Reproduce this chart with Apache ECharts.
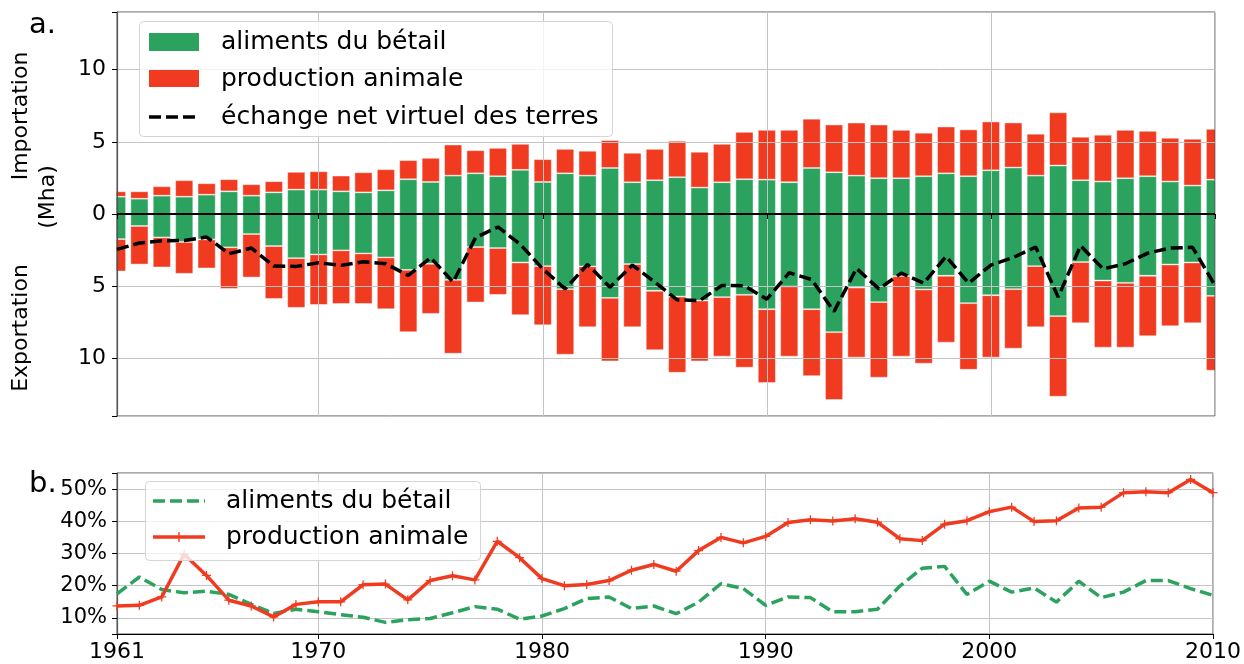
<!DOCTYPE html>
<html>
<head>
<meta charset="utf-8">
<script src="https://cdn.jsdelivr.net/npm/echarts@6/dist/echarts.min.js"></script>
<style>
html,body{margin:0;padding:0;background:#fff;}
#chart{width:1244px;height:664px;}
</style>
</head>
<body>
<div id="chart"></div>
<script>
// ---------- DATA ----------
const years = [1961,1962,1963,1964,1965,1966,1967,1968,1969,1970,
  1971,1972,1973,1974,1975,1976,1977,1978,1979,1980,
  1981,1982,1983,1984,1985,1986,1987,1988,1989,1990,
  1991,1992,1993,1994,1995,1996,1997,1998,1999,2000,
  2001,2002,2003,2004,2005,2006,2007,2008,2009,2010];

// Importations (Mha)
const importFeed = [1.20,1.06,1.27,1.20,1.34,1.57,1.27,1.50,1.69,1.69,
  1.57,1.50,1.64,2.41,2.22,2.66,2.82,2.62,3.06,2.22,
  2.82,2.66,3.19,2.20,2.34,2.55,1.83,2.20,2.41,2.38,
  2.20,3.19,2.89,2.66,2.48,2.48,2.62,2.82,2.62,3.03,
  3.22,2.66,3.36,2.34,2.25,2.48,2.62,2.25,1.97,2.38];
const importAnimal = [0.37,0.51,0.65,1.14,0.79,0.84,0.79,0.77,1.23,1.27,
  1.09,1.39,1.46,1.32,1.67,2.15,1.60,1.96,1.80,1.58,
  1.69,1.72,1.93,2.04,2.17,2.52,2.48,2.66,3.28,3.45,
  3.63,3.41,3.31,3.67,3.72,3.35,3.01,3.24,3.24,3.38,
  3.12,2.90,3.68,3.01,3.24,3.35,3.14,3.03,3.24,3.52];
// Exportations (Mha, plotted downward)
const exportFeed = [-1.74,-0.83,-1.62,-1.94,-1.76,-2.31,-1.39,-2.22,-3.06,-2.80,
  -2.52,-2.73,-3.01,-3.87,-3.45,-4.56,-2.29,-2.36,-3.36,-3.61,
  -5.21,-3.63,-5.81,-3.47,-5.32,-5.72,-6.00,-5.76,-5.60,-6.60,
  -5.02,-6.60,-8.19,-5.10,-6.11,-4.31,-5.23,-4.28,-6.18,-5.63,
  -5.21,-3.61,-7.08,-3.33,-4.61,-4.77,-4.28,-3.50,-3.36,-5.67];
const exportAnimal = [-2.24,-2.67,-2.08,-2.20,-2.01,-2.88,-3.01,-3.66,-3.44,-3.50,
  -3.71,-3.50,-3.59,-4.32,-3.47,-5.12,-3.84,-3.24,-3.65,-4.10,
  -4.54,-4.22,-4.40,-4.38,-4.12,-5.28,-4.21,-4.12,-5.05,-5.11,
  -4.86,-4.63,-4.70,-4.85,-5.23,-5.57,-5.14,-4.63,-4.61,-4.32,
  -4.12,-4.24,-5.58,-4.24,-4.65,-4.49,-4.19,-4.28,-4.21,-5.19];
// Échange net virtuel des terres (Mha)
const netExchange = [-2.45,-2.01,-1.85,-1.83,-1.60,-2.75,-2.36,-3.61,-3.63,-3.38,
  -3.56,-3.31,-3.45,-4.26,-3.03,-4.72,-1.64,-0.90,-2.11,-3.80,
  -5.19,-3.50,-5.07,-3.54,-4.72,-5.95,-6.00,-4.95,-4.98,-5.90,
  -4.07,-4.54,-6.76,-3.77,-5.19,-4.10,-4.79,-2.94,-4.79,-3.54,
  -3.01,-2.29,-5.76,-2.20,-3.80,-3.45,-2.71,-2.36,-2.31,-4.95];

// Panel b (%)
const feedShare = [17.5,22.7,18.8,17.8,18.3,17.3,14.2,11.4,12.7,11.9,
  11.0,10.2,8.6,9.4,9.8,11.6,13.5,12.7,9.6,10.6,
  12.9,16.0,16.5,12.9,13.7,11.3,14.9,20.6,19.1,13.9,
  16.5,16.3,11.9,11.9,12.7,19.9,25.4,26.0,17.3,21.4,
  18.0,19.3,14.9,21.4,16.3,18.0,21.6,21.6,19.1,17.0];
const animalShare = [13.7,13.9,16.5,29.8,23.2,15.5,13.7,10.3,14.2,15.0,
  15.0,20.3,20.5,15.6,21.6,23.1,21.8,33.8,28.7,22.2,
  20.0,20.4,21.6,24.8,26.6,24.5,30.9,35.0,33.3,35.3,
  39.6,40.5,40.1,40.8,39.7,34.6,34.0,39.1,40.2,43.0,
  44.4,39.9,40.2,44.1,44.4,48.9,49.2,48.9,53.0,48.9];

const seriesNames = ['aliments du bétail', 'production animale', 'échange net virtuel des terres'];

// ---------- STYLE ----------
const GREEN = '#2ca25f';
const RED = '#f03b20';
const GRID = '#c4c4c4';
const FONT = 'DejaVu Sans';
const AXIS_Z = 10;

const keyYear = (i, v) => { const y = Number(v); return y === 1961 || y % 10 === 0; };

const chart = echarts.init(document.getElementById('chart'), null, {renderer: 'canvas'});

const baseX = (gi, showLabels) => ({
  type: 'category', gridIndex: gi, data: years, boundaryGap: false, z: AXIS_Z,
  axisLine: {show: true, lineStyle: {color: '#000', width: 1}},
  axisTick: {show: true, interval: keyYear, length: 5, lineStyle: {color: '#000'}},
  axisLabel: {show: showLabels, interval: keyYear, fontSize: 22, color: '#000', fontFamily: FONT, margin: 7},
  splitLine: {show: true, interval: keyYear, lineStyle: {color: GRID, width: 1}}
});

const barStyle = c => ({color: c, borderColor: 'rgba(255,255,255,0.55)', borderWidth: 0.8});

const option = {
  animation: false,
  backgroundColor: '#fff',
  textStyle: {fontFamily: FONT},
  grid: [
    {left: 117, right: 29, top: 12, height: 404, show: true, z: AXIS_Z, borderColor: '#555', borderWidth: 1, backgroundColor: 'transparent'},
    {left: 117, right: 29, top: 473, height: 161, show: true, z: AXIS_Z, borderColor: '#555', borderWidth: 1, backgroundColor: 'transparent'}
  ],
  xAxis: [baseX(0, false), baseX(1, true)],
  yAxis: [
    {
      type: 'value', gridIndex: 0, min: -14, max: 14, z: AXIS_Z,
      axisLine: {show: true, lineStyle: {color: '#555', width: 1.2}},
      axisTick: {show: true, length: 5, lineStyle: {color: '#000'}},
      axisLabel: {fontSize: 22, color: '#000', fontFamily: FONT, margin: 11,
        formatter: v => (v % 5 === 0 ? String(Math.abs(v)) : '')},
      splitLine: {show: true, lineStyle: {color: GRID, width: 1}}
    },
    {
      type: 'value', gridIndex: 1, min: 5, max: 55, z: AXIS_Z,
      axisLine: {show: true, lineStyle: {color: '#555', width: 1.2}},
      axisTick: {show: true, length: 5, lineStyle: {color: '#000'}},
      axisLabel: {fontSize: 21, color: '#000', fontFamily: FONT, margin: 10,
        formatter: v => (v % 10 === 0 ? v + '%' : '')},
      splitLine: {show: true, lineStyle: {color: GRID, width: 1}}
    }
  ],
  series: [
    {name: seriesNames[0], type: 'bar', xAxisIndex: 0, yAxisIndex: 0, stack: 'land', data: importFeed,
      barWidth: 18, itemStyle: barStyle(GREEN)},
    {name: seriesNames[0], type: 'bar', xAxisIndex: 0, yAxisIndex: 0, stack: 'land', data: exportFeed,
      barWidth: 18, itemStyle: barStyle(GREEN)},
    {name: seriesNames[1], type: 'bar', xAxisIndex: 0, yAxisIndex: 0, stack: 'land', data: importAnimal,
      barWidth: 18, itemStyle: barStyle(RED)},
    {name: seriesNames[1], type: 'bar', xAxisIndex: 0, yAxisIndex: 0, stack: 'land', data: exportAnimal,
      barWidth: 18, itemStyle: barStyle(RED)},
    {name: seriesNames[2], type: 'line', xAxisIndex: 0, yAxisIndex: 0, data: netExchange,
      showSymbol: false, symbol: 'none', z: 20,
      lineStyle: {color: '#000', width: 3.5, type: [12, 5]},
      markLine: {silent: true, z: 15, symbol: 'none', label: {show: false},
        lineStyle: {color: '#000', width: 2, type: 'solid'}, data: [{yAxis: 0}]}},
    {name: 'aliments du bétail (%)', type: 'line', xAxisIndex: 1, yAxisIndex: 1, data: feedShare,
      showSymbol: false, symbol: 'none', z: 20,
      lineStyle: {color: GREEN, width: 3.5, type: [12, 5]}},
    {name: 'production animale (%)', type: 'line', xAxisIndex: 1, yAxisIndex: 1, data: animalShare, z: 21,
      symbol: 'path://M4.3,0H5.7V10H4.3Z M0,4.3H10V5.7H0Z', symbolSize: 9, showSymbol: true,
      itemStyle: {color: RED}, lineStyle: {color: RED, width: 3.5}}
  ],
  graphic: [
    // masks trimming the half bars that overhang the plot edges (above bars, below axes)
    {type: 'rect', z: 5, shape: {x: 104, y: 11, width: 12.5, height: 406}, style: {fill: '#fff'}},
    {type: 'rect', z: 5, shape: {x: 1215.5, y: 11, width: 14, height: 406}, style: {fill: '#fff'}},
    // panel letters
    {type: 'text', z: 30, left: 29, top: 11, style: {text: 'a.', font: '29px "DejaVu Sans"', fill: '#000'}},
    {type: 'text', z: 30, left: 29, top: 470, style: {text: 'b.', font: '29px "DejaVu Sans"', fill: '#000'}},
    // y axis titles
    {type: 'text', z: 30, x: 21, y: 116, rotation: Math.PI / 2,
      style: {text: 'Importation', font: '22px "DejaVu Sans"', fill: '#000', align: 'center', verticalAlign: 'middle'}},
    {type: 'text', z: 30, x: 48, y: 197, rotation: Math.PI / 2,
      style: {text: '(Mha)', font: '22px "DejaVu Sans"', fill: '#000', align: 'center', verticalAlign: 'middle'}},
    {type: 'text', z: 30, x: 21, y: 328, rotation: Math.PI / 2,
      style: {text: 'Exportation', font: '22px "DejaVu Sans"', fill: '#000', align: 'center', verticalAlign: 'middle'}},
    // top legend
    {type: 'group', z: 100, children: [
      {type: 'rect', z: 100, shape: {x: 139.5, y: 21.5, width: 473, height: 115, r: 4},
        style: {fill: 'rgba(255,255,255,0.8)', stroke: '#d4d4d4', lineWidth: 1}},
      {type: 'rect', z: 101, shape: {x: 149, y: 33, width: 50, height: 18}, style: {fill: GREEN}},
      {type: 'rect', z: 101, shape: {x: 149, y: 70, width: 50, height: 17}, style: {fill: RED}},
      {type: 'line', z: 101, shape: {x1: 149, y1: 117, x2: 199, y2: 117},
        style: {stroke: '#000', lineWidth: 3.5, lineDash: [12, 5]}},
      {type: 'text', z: 101, x: 221, y: 42, style: {text: seriesNames[0], font: '25px "DejaVu Sans"', fill: '#000', verticalAlign: 'middle'}},
      {type: 'text', z: 101, x: 221, y: 79, style: {text: seriesNames[1], font: '25px "DejaVu Sans"', fill: '#000', verticalAlign: 'middle'}},
      {type: 'text', z: 101, x: 221, y: 117, style: {text: seriesNames[2], font: '25px "DejaVu Sans"', fill: '#000', verticalAlign: 'middle'}}
    ]},
    // bottom legend
    {type: 'group', z: 100, children: [
      {type: 'rect', z: 100, shape: {x: 145.5, y: 481.5, width: 335, height: 79, r: 4},
        style: {fill: 'rgba(255,255,255,0.8)', stroke: '#d4d4d4', lineWidth: 1}},
      {type: 'line', z: 101, shape: {x1: 153, y1: 501, x2: 205, y2: 501},
        style: {stroke: GREEN, lineWidth: 3.5, lineDash: [12, 5]}},
      {type: 'line', z: 101, shape: {x1: 153, y1: 537, x2: 205, y2: 537},
        style: {stroke: RED, lineWidth: 3.5}},
      {type: 'line', z: 101, shape: {x1: 179, y1: 532, x2: 179, y2: 542},
        style: {stroke: RED, lineWidth: 1.4}},
      {type: 'text', z: 101, x: 226, y: 501, style: {text: seriesNames[0], font: '25px "DejaVu Sans"', fill: '#000', verticalAlign: 'middle'}},
      {type: 'text', z: 101, x: 226, y: 537, style: {text: seriesNames[1], font: '25px "DejaVu Sans"', fill: '#000', verticalAlign: 'middle'}}
    ]}
  ]
};

chart.setOption(option);
</script>
</body>
</html>
